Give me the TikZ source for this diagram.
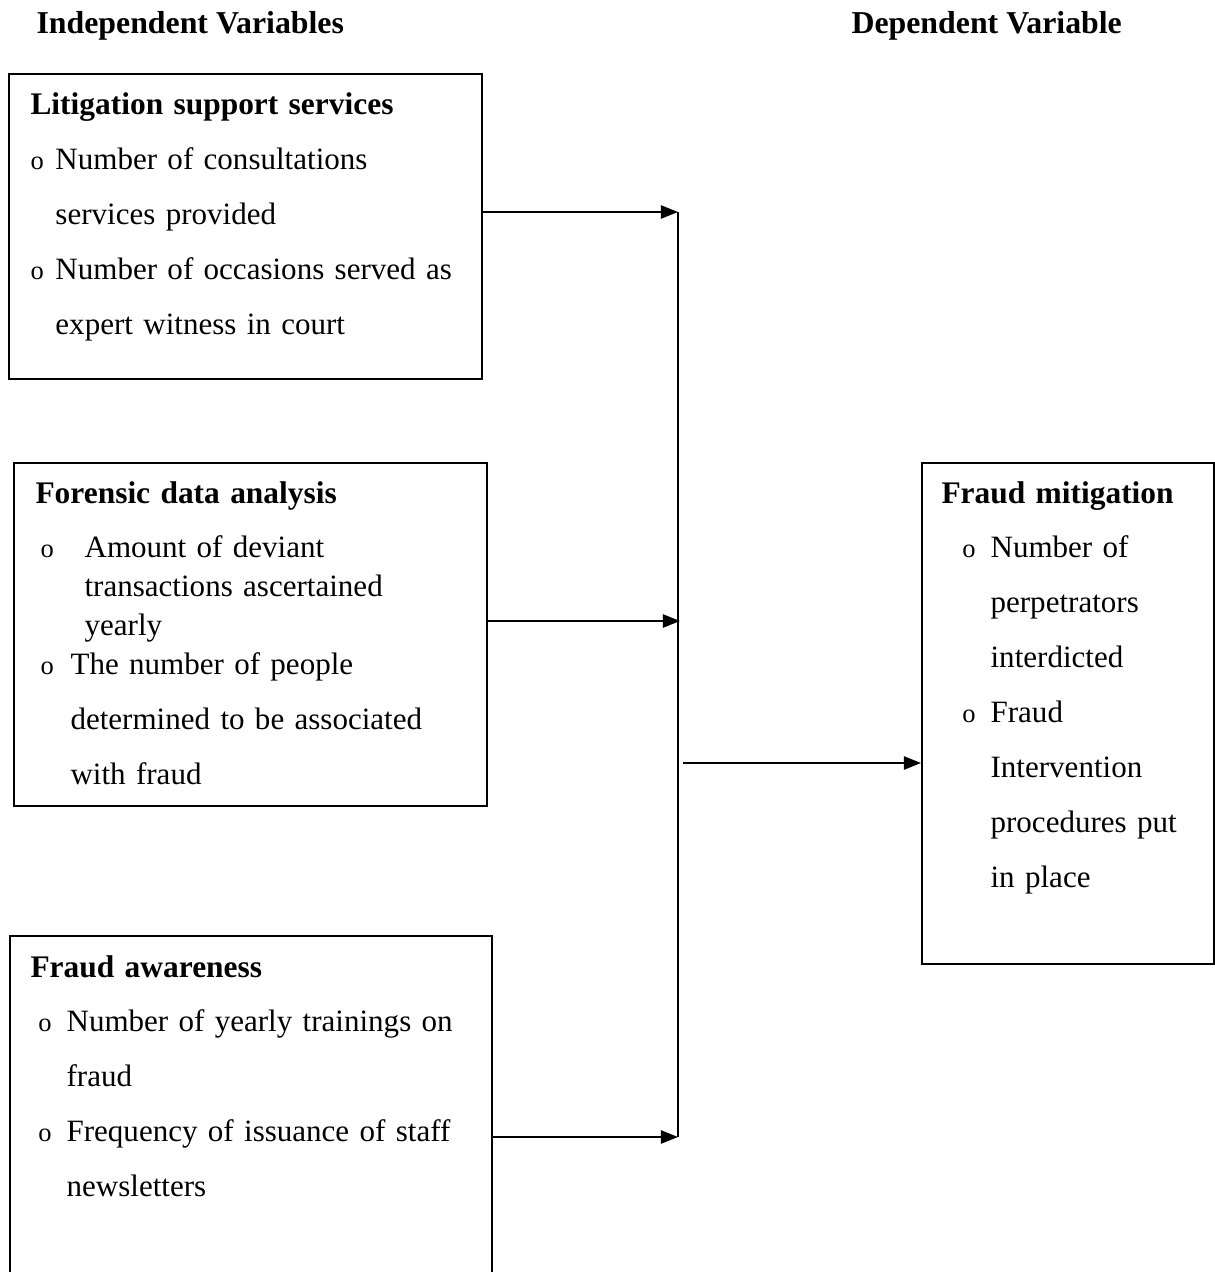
\documentclass[tikz,border=0pt]{standalone}
\usepackage{fontspec}
\setmainfont{Liberation Serif}
\usetikzlibrary{arrows.meta}

\tikzset{
  box/.style={draw, line width=0.75pt, rectangle, anchor=north west, inner sep=0pt},
  txt/.style={anchor=base west, inner sep=0pt, text width=200pt, align=left,
              font=\fontsize{11.7}{20.7}\selectfont},
  head/.style={anchor=base west, inner sep=0pt, font=\fontsize{12}{14}\selectfont\bfseries},
  arr/.style={-{Triangle[length=6.5pt,width=5pt]}, line width=0.75pt},
}
\newcommand{\bul}[2]{\hspace*{#1}\makebox[#2][l]{\fontsize{10}{10}\selectfont o}}
\newcommand{\ttl}[1]{{\fontsize{11.85}{14}\selectfont\bfseries #1}}

\begin{document}
\begin{tikzpicture}[x=0.377pt, y=-0.377pt]
    \useasboundingbox (0,0) rectangle (1215,1272);

    % headings
    \node[head] (hind) at (36,34) {Independent Variables};
    \node[head] (hdep) at (851,34) {Dependent Variable};

    % boxes
    \node[box, minimum width=178.3pt, minimum height=115pt] (lit) at (8,73) {};
    \node[box, minimum width=178.3pt, minimum height=129.3pt] (fda) at (13,462) {};
    \node[box, minimum width=181.7pt, minimum height=133.8pt] (awa) at (9,935) {};
    \node[box, minimum width=110.1pt, minimum height=188.9pt] (mit) at (921,462) {};

    % box texts
    \node[txt] (littxt) at (30,115) {\ttl{Litigation support services}\\
        \bul{0pt}{9.4pt}Number of consultations\\
        \hspace*{9.4pt}services provided\\
        \bul{0pt}{9.4pt}Number of occasions served as\\
        \hspace*{9.4pt}expert witness in court};
    \node[txt] (fdatxt) at (35,503) {\ttl{Forensic data analysis}\\
        \bul{1.9pt}{16.6pt}Amount of deviant\\[-6pt]
        \hspace*{18.5pt}transactions ascertained\\[-6pt]
        \hspace*{18.5pt}yearly\\[-6pt]
        \bul{1.9pt}{11.3pt}The number of people\\
        \hspace*{13.2pt}determined to be associated\\
        \hspace*{13.2pt}with fraud};
    \node[txt] (awatxt) at (30,977) {\ttl{Fraud awareness}\\
        \bul{3pt}{10.6pt}Number of yearly trainings on\\
        \hspace*{13.6pt}fraud\\
        \bul{3pt}{10.6pt}Frequency of issuance of staff\\
        \hspace*{13.6pt}newsletters};
    \node[txt] (mittxt) at (941,503) {\ttl{Fraud mitigation}\\
        \bul{7.9pt}{10.6pt}Number of\\
        \hspace*{18.5pt}perpetrators\\
        \hspace*{18.5pt}interdicted\\
        \bul{7.9pt}{10.6pt}Fraud\\
        \hspace*{18.5pt}Intervention\\
        \hspace*{18.5pt}procedures put\\
        \hspace*{18.5pt}in place};

    % connectors
    \coordinate (j1) at (678,212);
    \coordinate (j2) at (680,621);
    \coordinate (j3) at (678,1137);
    \coordinate (j4) at (683,763);
    \draw[arr] (lit.east |- j1) -- (j1);
    \draw[arr] (fda.east |- j2) -- (j2);
    \draw[arr] (awa.east |- j3) -- (j3);
    \draw[line width=0.75pt] (j1) -- (j3);
    \draw[arr] (j4) -- (mit.west |- j4);
\end{tikzpicture}
\end{document}
